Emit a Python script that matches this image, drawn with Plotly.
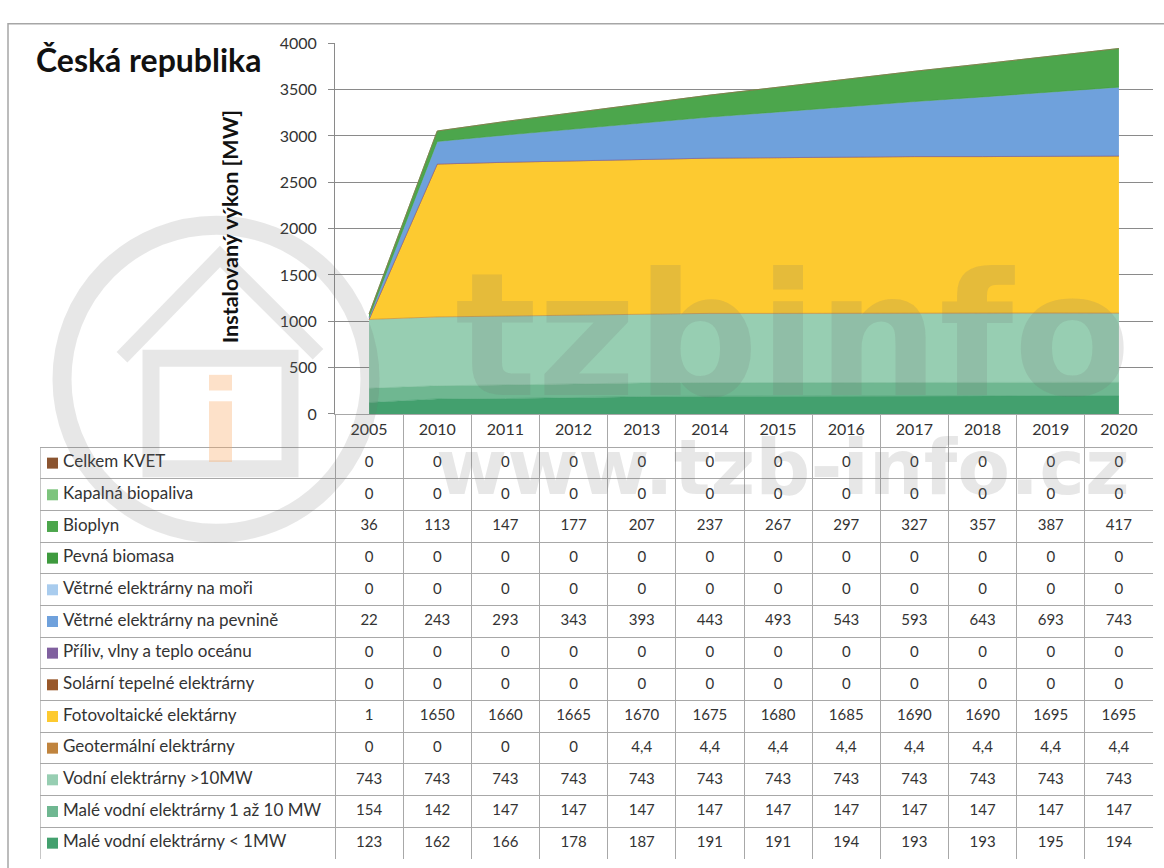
import plotly.graph_objects as go

W, H = 1164, 868

years = ["2005", "2010", "2011", "2012", "2013", "2014", "2015", "2016", "2017", "2018", "2019", "2020"]

# series listed from stack bottom to stack top
names = [
    "Malé vodní elektrárny < 1MW",
    "Malé vodní elektrárny 1 až 10 MW",
    "Vodní elektrárny >10MW",
    "Geotermální elektrárny",
    "Fotovoltaické elektárny",
    "Solární tepelné elektrárny",
    "Příliv, vlny a teplo oceánu",
    "Větrné elektrárny na pevnině",
    "Větrné elektrárny na moři",
    "Pevná biomasa",
    "Bioplyn",
    "Kapalná biopaliva",
    "Celkem KVET",
]

male_vodni_lt1 = [123, 162, 166, 178, 187, 191, 191, 194, 193, 193, 195, 194]
male_vodni_1_10 = [154, 142, 147, 147, 147, 147, 147, 147, 147, 147, 147, 147]
vodni_gt10 = [743, 743, 743, 743, 743, 743, 743, 743, 743, 743, 743, 743]
geotermalni = [0, 0, 0, 0, 4.4, 4.4, 4.4, 4.4, 4.4, 4.4, 4.4, 4.4]
fotovoltaicke = [1, 1650, 1660, 1665, 1670, 1675, 1680, 1685, 1690, 1690, 1695, 1695]
solarni_tepelne = [0, 0, 0, 0, 0, 0, 0, 0, 0, 0, 0, 0]
priliv = [0, 0, 0, 0, 0, 0, 0, 0, 0, 0, 0, 0]
vetrne_pevnina = [22, 243, 293, 343, 393, 443, 493, 543, 593, 643, 693, 743]
vetrne_more = [0, 0, 0, 0, 0, 0, 0, 0, 0, 0, 0, 0]
pevna_biomasa = [0, 0, 0, 0, 0, 0, 0, 0, 0, 0, 0, 0]
bioplyn = [36, 113, 147, 177, 207, 237, 267, 297, 327, 357, 387, 417]
kapalna_biopaliva = [0, 0, 0, 0, 0, 0, 0, 0, 0, 0, 0, 0]
celkem_kvet = [0, 0, 0, 0, 0, 0, 0, 0, 0, 0, 0, 0]

series = [male_vodni_lt1, male_vodni_1_10, vodni_gt10, geotermalni, fotovoltaicke,
          solarni_tepelne, priliv, vetrne_pevnina, vetrne_more, pevna_biomasa,
          bioplyn, kapalna_biopaliva, celkem_kvet]

colors = ["#43A06E", "#6FB791", "#97CEB2", "#C0843E", "#FDCA30", "#99582A", "#80609F",
          "#6FA1DC", "#A9CCEE", "#3E9A3E", "#4CA64C", "#7DC47D", "#8B5430"]

y_ticks = [0, 500, 1000, 1500, 2000, 2500, 3000, 3500, 4000]

FONT = "Lato"
GRID = "#8a8a8a"
TBL = "#a8a8a8"
TXT = "#333333"
WM = "rgba(110,110,110,0.17)"
WM_I = "rgba(250,170,100,0.35)"

# geometry (pixels)
px_l, px_r = 335, 1153
px_top, px_zero = 34, 413
tab_l = 40
ncol = len(years)
nrow = len(names)
colw = (px_r - px_l) / ncol
label_w = (px_l - tab_l) / colw
head_h = 34 / 32.3

fig = go.Figure()

for name, vals, col in zip(names, series, colors):
    fig.add_trace(go.Scatter(
        x=years, y=vals, name=name, mode="lines", stackgroup="one",
        line=dict(width=0.6, color=col), fillcolor=col, showlegend=False,
        hoverinfo="skip",
    ))

def fmt(v):
    if float(v).is_integer():
        return str(int(v))
    return str(v).replace(".", ",")

row_pos = [r + 0.5 for r in range(nrow)]
tab_names = names[::-1]
tab_colors = colors[::-1]
tab_series = series[::-1]

fig.add_trace(go.Scatter(
    x=[j + 0.5 for j in range(ncol)], y=[-head_h / 2] * ncol, text=years,
    mode="text", textposition="middle center", xaxis="x2", yaxis="y2",
    textfont=dict(family=FONT, size=16, color=TXT), showlegend=False, hoverinfo="skip",
))
for j in range(ncol):
    fig.add_trace(go.Scatter(
        x=[j + 0.5] * nrow, y=row_pos,
        text=[fmt(s[j]) for s in tab_series],
        mode="text", textposition="middle center", xaxis="x2", yaxis="y2",
        textfont=dict(family=FONT, size=15, color=TXT), showlegend=False, hoverinfo="skip",
    ))
fig.add_trace(go.Scatter(
    x=[-label_w + 12.5 / colw] * nrow, y=row_pos,
    mode="markers", marker=dict(symbol="square", size=11, color=tab_colors, line=dict(width=0)),
    xaxis="x2", yaxis="y2", showlegend=False, hoverinfo="skip",
))
fig.add_trace(go.Scatter(
    x=[-label_w + 23 / colw] * nrow, y=row_pos, text=tab_names,
    mode="text", textposition="middle right", xaxis="x2", yaxis="y2",
    textfont=dict(family=FONT, size=17, color=TXT), showlegend=False, hoverinfo="skip",
))

fig.update_layout(
    width=W, height=H,
    margin=dict(l=0, r=0, t=0, b=0),
    paper_bgcolor="white", plot_bgcolor="rgba(0,0,0,0)",
    font=dict(family=FONT, color=TXT),
    xaxis=dict(
        type="category", domain=[px_l / W, px_r / W], range=[-0.5, ncol - 0.5],
        showticklabels=False, showgrid=False, zeroline=False, ticks="",
        showline=True, linecolor=TBL, linewidth=1.3,
    ),
    yaxis=dict(
        domain=[1 - px_zero / H, 1 - px_top / H], range=[0, 4000],
        tickvals=y_ticks, ticks="outside", ticklen=6, tickcolor=GRID,
        ticklabelstandoff=8,
        showgrid=True, gridcolor=GRID, gridwidth=1, zeroline=False,
        showline=True, linecolor=GRID, linewidth=1,
        tickfont=dict(family=FONT, size=16, color=TXT),
    ),
    xaxis2=dict(
        domain=[tab_l / W, px_r / W], range=[-label_w, ncol], anchor="y2",
        tickvals=list(range(ncol + 1)), showticklabels=False, ticks="",
        showgrid=True, gridcolor=TBL, gridwidth=1.3, zeroline=False, showline=False,
    ),
    yaxis2=dict(
        domain=[0, 1 - px_zero / H], range=[nrow, -head_h],
        anchor="x2", tickvals=list(range(nrow + 1)), showticklabels=False, ticks="",
        showgrid=True, gridcolor=TBL, gridwidth=1.3, zeroline=False, showline=False,
    ),
    shapes=[
        dict(type="rect", xref="paper", yref="paper", x0=8 / W, x1=1.02, y0=-0.02, y1=1 - 14 / H,
             line=dict(color="#a6a6a6", width=1.5), layer="below"),
        dict(type="line", xref="x2", yref="y2", x0=-label_w, x1=-label_w, y0=0, y1=nrow,
             line=dict(color=TBL, width=1.3), layer="below"),
        dict(type="circle", xref="paper", yref="paper",
             x0=62 / W, x1=370 / W, y0=1 - 535 / H, y1=1 - 220 / H,
             line=dict(color=WM, width=19), layer="above"),
        dict(type="path", xref="paper", yref="paper",
             path=f"M {122/W} {1-355/H} L {220/W} {1-252/H} L {318/W} {1-352/H}",
             line=dict(color=WM, width=15), layer="above"),
        dict(type="rect", xref="paper", yref="paper",
             x0=151 / W, x1=290 / W, y0=1 - 469 / H, y1=1 - 356 / H,
             line=dict(color=WM, width=17), layer="above"),
        dict(type="rect", xref="paper", yref="paper",
             x0=209 / W, x1=232 / W, y0=1 - 389 / H, y1=1 - 373 / H,
             fillcolor=WM_I, line=dict(width=0), layer="above"),
        dict(type="rect", xref="paper", yref="paper",
             x0=209 / W, x1=232 / W, y0=1 - 462 / H, y1=1 - 400 / H,
             fillcolor=WM_I, line=dict(width=0), layer="above"),
    ],
    annotations=[
        dict(text="<b>Česká republika</b>", xref="paper", yref="paper",
             x=34 / W, y=1 - 51 / H, xanchor="left", yanchor="middle", showarrow=False,
             font=dict(family=FONT, size=32, color="#111111")),
        dict(text="<b>Instalovaný výkon [MW]</b>", xref="paper", yref="paper",
             x=230 / W, y=1 - 222 / H, xanchor="center", yanchor="middle", showarrow=False,
             textangle=-90, font=dict(family=FONT, size=21.5, color="#111111")),
        dict(text="<b>tzbinfo</b>", xref="paper", yref="paper",
             x=793 / W, y=1 - 333 / H, xanchor="center", yanchor="middle", showarrow=False,
             font=dict(family="DejaVu Sans", size=171, color=WM)),
        dict(text="<b>www.tzb-info.cz</b>", xref="paper", yref="paper",
             x=783 / W, y=1 - 468 / H, xanchor="center", yanchor="middle", showarrow=False,
             font=dict(family="DejaVu Sans", size=77, color=WM)),
    ],
)

fig.write_html(
    "out.html", config={"displayModeBar": False},
    post_script=(
        "document.documentElement.style.margin='0';"
        "document.body.style.margin='0';document.body.style.overflow='hidden';"
        "var gd=document.querySelector('.plotly-graph-div');"
        "gd.style.position='fixed';gd.style.left='0px';gd.style.top='0px';"
    ),
)
